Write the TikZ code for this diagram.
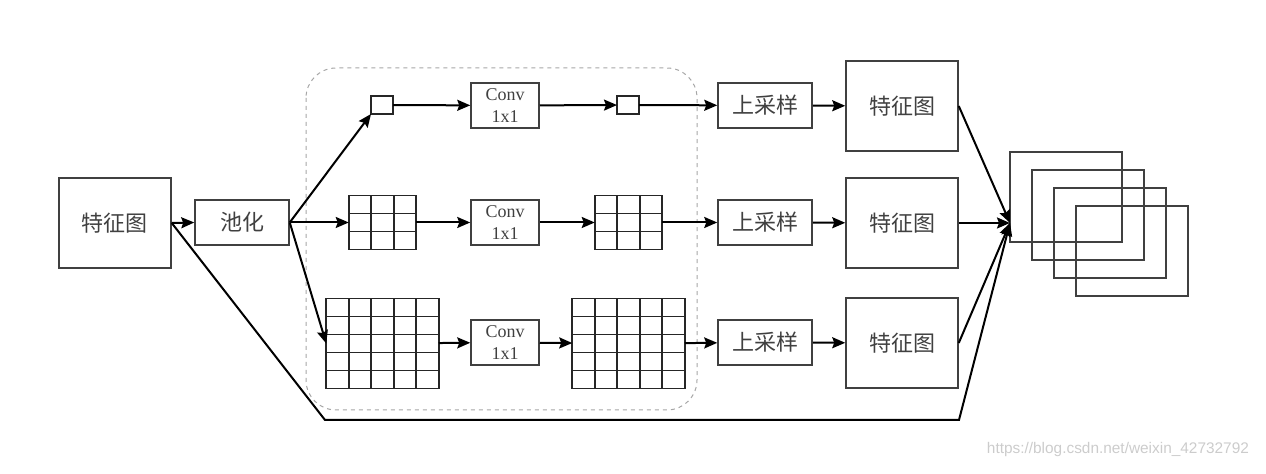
\documentclass[tikz,border=0pt]{standalone}
\usepackage{fontspec}
\setmainfont{Liberation Serif}
\newfontfamily\cjk{Noto Sans CJK SC}
\newfontfamily\wmfont{Liberation Sans}
\usetikzlibrary{arrows.meta,calc}

\tikzset{
    box/.style={draw=black!75, line width=0.75pt, inner sep=0pt, text=black!75},
    fmap/.style={box, minimum width=56pt, minimum height=45pt, font=\cjk\fontsize{11}{13}\selectfont},
    opbox/.style={box, minimum width=47pt, minimum height=22.5pt, font=\cjk\fontsize{11}{13}\selectfont},
    convbox/.style={box, minimum width=34pt, minimum height=22.5pt, align=center, font=\fontsize{9}{11}\selectfont},
    cell/.style={draw=black!85, line width=0.9pt, outer sep=0pt, inner sep=0pt, minimum width=11pt, minimum height=9pt},
    cellgrid/.style 2 args={cell, minimum width=#1*11.25pt, minimum height=#2*9pt},
    outmap/.style={draw=black!75, line width=0.75pt, minimum width=56pt, minimum height=45pt, inner sep=0pt},
    flow/.style={-{Stealth[length=6.5pt,width=5.5pt,inset=1pt]}, line width=1pt},
}

\begin{document}
\begin{tikzpicture}[x=0.5pt, y=-0.5pt]
    \useasboundingbox (0,0) rectangle (1266,474);

    % Pooling module (dashed frame)
    \draw[gray!70, line width=0.5pt, dash pattern=on 2pt off 2pt, rounded corners=15pt]
        (306,68) rectangle (697,410);

    % Input
    \node[fmap] (fm0) at (115,223) {特征图};
    \node[opbox] (pool) at (242,222.5) {池化};

    % Branch 1
    \node[cell] (s1a) at (382,105) {};
    \node[convbox] (c1) at (505,105.5) {Conv\\1x1};
    \node[cell] (s1b) at (628,105) {};
    \node[opbox] (up1) at (765,105.5) {上采样};
    \node[fmap] (fm1) at (902,106) {特征图};

    % Branch 2
    \node[cellgrid={3}{3}] (g2a) at (382.5,222.5) {};
    \node[convbox] (c2) at (505,222.5) {Conv\\1x1};
    \node[cellgrid={3}{3}] (g2b) at (628.5,222.5) {};
    \node[opbox] (up2) at (765,222.5) {上采样};
    \node[fmap] (fm2) at (902,223) {特征图};

    % Branch 3
    \node[cellgrid={5}{5}] (g3a) at (382.5,343.5) {};
    \node[convbox] (c3) at (505,342.5) {Conv\\1x1};
    \node[cellgrid={5}{5}] (g3b) at (628.5,343.5) {};
    \node[opbox] (up3) at (765,342.5) {上采样};
    \node[fmap] (fm3) at (902,343) {特征图};

    % Grid lines
    \foreach \g/\n in {g2a/3, g2b/3, g3a/5, g3b/5} {
        \pgfmathtruncatemacro\m{\n-1}
        \foreach \i in {1,...,\m} {
            \draw[black!85, line width=0.9pt] ($(\g.north west)!{\i/\n}!(\g.north east)$) -- ($(\g.south west)!{\i/\n}!(\g.south east)$);
            \draw[black!85, line width=0.9pt] ($(\g.north west)!{\i/\n}!(\g.south west)$) -- ($(\g.north east)!{\i/\n}!(\g.south east)$);
        }
    }

    % Concatenated output
    \foreach \k in {1,...,4}
        \node[outmap] (out\k) at ({1066+22*(\k-1)},{197+18*(\k-1)}) {};
    \coordinate (hub) at (1010,223);

    % Connections
    \draw[flow] (fm0.east) -- (pool.west);
    \draw[flow] (pool.east) -- (s1a.south west);
    \draw[flow] (pool.east) -- (g2a.west);
    \draw[flow] (pool.east) -- (g3a.west);

    \draw[flow] (s1a) -- (c1);
    \draw[flow] (c1) -- (s1b);
    \draw[flow] (s1b) -- (up1);
    \draw[flow] (up1) -- (fm1);

    \draw[flow] (g2a) -- (c2);
    \draw[flow] (c2) -- (g2b);
    \draw[flow] (g2b) -- (up2);
    \draw[flow] (up2) -- (fm2);

    \draw[flow] (g3a) -- (c3);
    \draw[flow] (c3) -- (g3b);
    \draw[flow] (g3b) -- (up3);
    \draw[flow] (up3) -- (fm3);

    \draw[flow] (fm1.east) -- (hub);
    \draw[flow] (fm2.east) -- (hub);
    \draw[flow] (fm3.east) -- (hub);

    % Skip path
    \coordinate (skipa) at (325,420);
    \coordinate (skipb) at (959,420);
    \draw[flow] (fm0.east) -- (skipa) -- (skipb) -- (hub);

    % Watermark
    \node[anchor=east, text=gray!40, font=\wmfont\fontsize{7.7}{9}\selectfont] (wm) at (1256,450) {https://blog.csdn.net/weixin\_42732792};
\end{tikzpicture}
\end{document}
